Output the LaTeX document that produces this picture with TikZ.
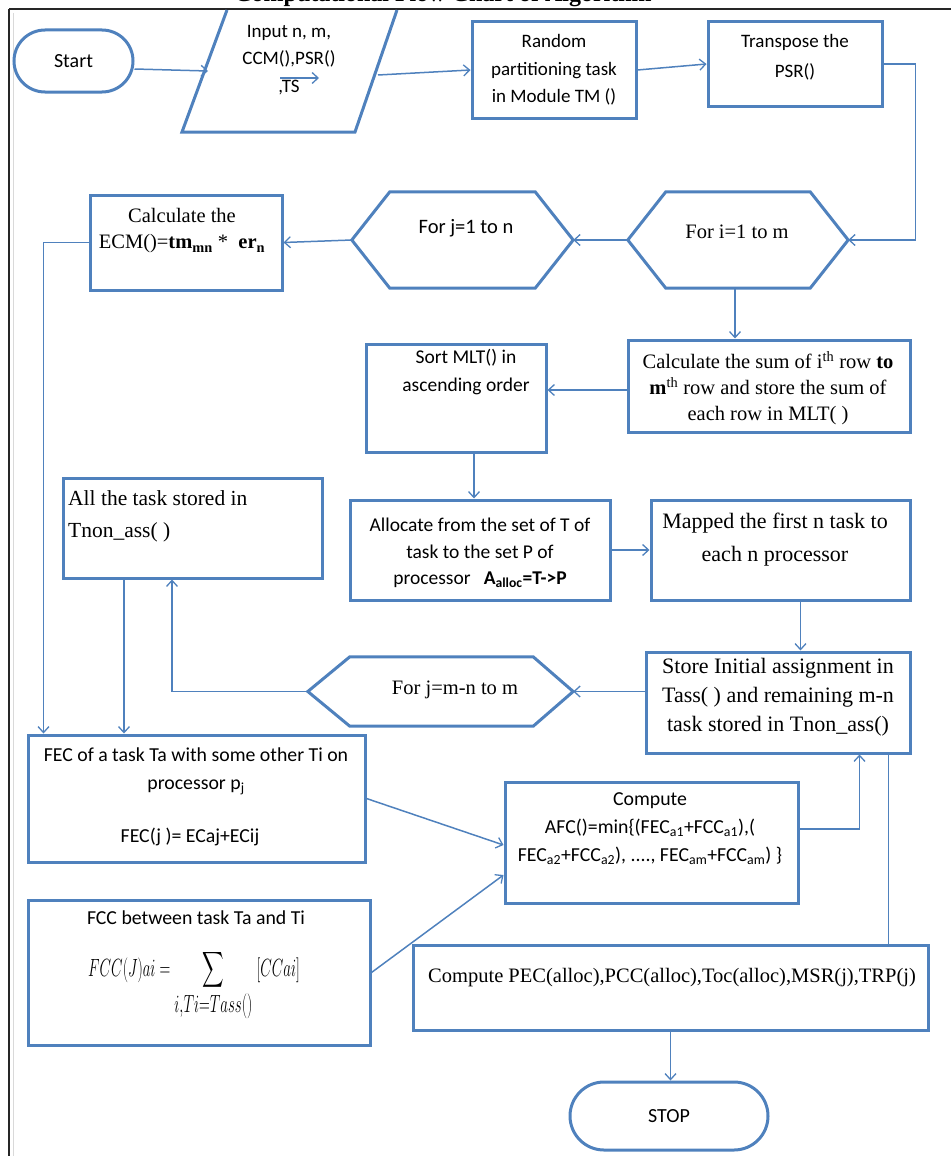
\documentclass[tikz,border=0pt]{standalone}
\usepackage{amsmath}
\usepackage{fontspec}
\setmainfont{Carlito}
\newfontfamily\tnr{Liberation Serif}
\usetikzlibrary{arrows.meta,shapes.misc,fit}
\definecolor{boxblue}{RGB}{79,129,189}
\begin{document}
\begin{tikzpicture}[x=1pt,y=-1pt,
  box/.style={draw=boxblue,line width=3pt,inner sep=0pt},
  hexarea/.style={inner sep=0pt},
  term/.style={draw=boxblue,line width=3pt,rounded rectangle,inner sep=0pt},
  outline/.style={draw=boxblue,line width=3pt,line join=miter},
  arr/.style={draw=boxblue,line width=1.5pt,-{Straight Barb[length=6pt,width=11pt,line width=1.3pt]}},
  conn/.style={draw=boxblue,line width=1.5pt},
  sf/.style={font=\fontsize{19}{27.5}\selectfont,align=center,inner sep=0pt},
  rm/.style={font=\tnr\fontsize{20.5}{26}\selectfont,align=center,inner sep=0pt}]
\useasboundingbox (0,0) rectangle (951,1156);

% clipped title and frame
\begin{scope}
\clip (0,0) rectangle (951,9);
\node[font=\tnr\bfseries\fontsize{24}{28}\selectfont,anchor=base,inner sep=0pt] (title) at (443,1.5) {Computational Flow Chart of Algorithm};
\end{scope}
\draw[black!85,line width=2pt] (9,9.5) -- (951,9.5);
\draw[black!85,line width=2pt] (9,9.5) -- (9,1156);
\draw[black!15,line width=1pt] (13,13) -- (13,1156);

% start
\node[term,minimum width=119pt,minimum height=62pt] (start) at (73.5,61) {};
\node[sf,font=\fontsize{20}{27.5}\selectfont] (startt) at (start) {Start};

% input parallelogram (top cut by frame)
\coordinate (inTL) at (227,10);
\coordinate (inTR) at (397,10);
\coordinate (inBR) at (355,132);
\coordinate (inBL) at (182,132);
\draw[outline] (inTL) -- (inBL) -- (inBR) -- (inTR);
\coordinate (inL) at (208,71);
\coordinate (inR) at (378,75);
\node[sf] (inputt) at (289,60) {Input n, m,\\CCM(),PSR()\\,TS};
\coordinate (inA) at (280,78);
\coordinate (inB) at (319,78);
\draw[arr] (inA) -- (inB);

% boxes
\node[box,fit={(472,22) (636,118)}] (rand) {};
\node[sf] (randt) at (554,70) {Random\\partitioning task\\in Module TM ()};
\node[box,fit={(708,22) (882,106)}] (trans) {};
\node[sf] (transt) at (795,57) {Transpose the\\[3pt]PSR()};

% hexagons
\node[hexarea,fit={(628,192) (848,288)}] (fori) {};
\draw[outline] (fori.west) -- ([xshift=38]fori.north west) -- ([xshift=-38]fori.north east) -- (fori.east) -- ([xshift=-38]fori.south east) -- ([xshift=38]fori.south west) -- cycle;
\node[rm] (forit) at (737,232) {For i=1 to m};

\node[hexarea,fit={(352,192) (573,288)}] (forj) {};
\draw[outline] (forj.west) -- ([xshift=38]forj.north west) -- ([xshift=-38]forj.north east) -- (forj.east) -- ([xshift=-38]forj.south east) -- ([xshift=38]forj.south west) -- cycle;
\node[sf,font=\fontsize{20.5}{27.5}\selectfont] (forjt) at (466,228) {For j=1 to n};

\node[box,fit={(90,195) (282,290)}] (ecm) {};
\node[rm] (ecmt) at (182,231) {Calculate the\\ECM()=\textbf{tm}\textsubscript{\textbf{mn}} * ~\textbf{er}\textsubscript{\textbf{n}}};

\node[box,fit={(628,340) (910,432)}] (calc) {};
\node[rm] (calct) at (768,388) {Calculate the sum of i\textsuperscript{th} row \textbf{to}\\\textbf{m}\textsuperscript{th} row and store the sum of\\each row in MLT( )};

\node[box,fit={(366,344) (546,452)}] (sort) {};
\node[sf,font=\fontsize{19.5}{28}\selectfont] (sortt) at (466,372) {Sort MLT() in\\ascending order};

\node[box,fit={(63,478) (322,578)}] (tnon) {};
\node[rm,font=\tnr\fontsize{21.5}{26}\selectfont,align=left,anchor=west] (tnont) at (68,516) {All the task stored in\\[6pt]Tnon\_ass( )};

\node[box,fit={(350,500) (610,600)}] (alloc) {};
\node[sf,font=\fontsize{19.5}{26.5}\selectfont] (alloct) at (480,553) {Allocate from the set of T of\\task to the set P of\\processor~~~\textbf{A\textsubscript{alloc}=T->P}};

\node[box,fit={(651,500) (910,600)}] (mapped) {};
\node[rm,font=\tnr\fontsize{22}{26}\selectfont] (mappedt) at (775,540) {Mapped the first n task to\\[7pt]each n processor};

\node[box,fit={(646,652) (910,753)}] (store) {};
\node[rm,font=\tnr\fontsize{22}{26}\selectfont] (storet) at (778,697) {Store Initial assignment in\\[3pt]Tass( ) and remaining m-n\\[3pt]task stored in Tnon\_ass()};

\node[hexarea,fit={(308,657) (573,726)}] (formn) {};
\draw[outline] (formn.west) -- ([xshift=42]formn.north west) -- ([xshift=-40]formn.north east) -- (formn.east) -- ([xshift=-40]formn.south east) -- ([xshift=42]formn.south west) -- cycle;
\node[rm] (formnt) at (455,690) {For j=m-n to m};

\node[box,fit={(28,735) (365,862)}] (fec) {};
\node[sf,font=\fontsize{19.8}{28}\selectfont] (fect) at (196,771) {FEC of a task Ta with some other Ti on\\processor p\textsubscript{j}};
\node[sf,font=\fontsize{19.8}{28}\selectfont] (fect2) at (190,837) {FEC(j )= ECaj+ECij};

\node[box,fit={(505,782) (798,903)}] (afc) {};
\node[sf,font=\fontsize{19.8}{28}\selectfont] (afct) at (650,829) {Compute\\AFC()=min\{(FEC\textsubscript{a1}+FCC\textsubscript{a1}),(\\FEC\textsubscript{a2}+FCC\textsubscript{a2}), ...., FEC\textsubscript{am}+FCC\textsubscript{am}) \}};

\node[box,fit={(28,900) (370,1045)}] (fcc) {};
\node[sf,font=\fontsize{19.8}{28}\selectfont] (fcct) at (196,918) {FCC between task Ta and Ti};
\node[inner sep=0pt,font=\fontsize{35}{40}\selectfont] (fccf) at (194,986) {\scalebox{0.6}[1]{$\displaystyle FCC(J)ai=\sum_{i,Ti=Tass()}\;[CCai]$}};

\node[box,fit={(413,945) (928,1030)}] (pec) {};
\node[rm] (pect) at (672,978) {Compute PEC(alloc),PCC(alloc),Toc(alloc),MSR(j),TRP(j)};

\node[term,minimum width=198pt,minimum height=68pt] (stop) at (669,1116) {};
\node[sf,font=\fontsize{20}{27.5}\selectfont] (stopt) at (stop) {STOP};

% connectors
\draw[arr] ([yshift=-8]start.east) -- (inL);
\draw[arr] (inR) -- (rand.west);
\draw[arr] (rand.east) -- (trans.west);
\draw[arr] (trans.east) -- ++(32,0) |- (fori.east);
\draw[arr] (fori.west) -- (forj.east);
\draw[arr] (forj.west) -- (ecm.east);
\draw[arr] (ecm.west) -| ([xshift=17]fec.north west);
\draw[arr] ([xshift=-3]fori.south) -- ([xshift=-3]fori.south |- calc.north);
\draw[arr] ([yshift=-4]calc.west) -- ([yshift=-4]calc.west -| sort.east);
\draw[arr] ([xshift=18]sort.south) -- ([xshift=18]sort.south |- alloc.north);
\draw[arr] (alloc.east) -- (mapped.west);
\draw[arr] ([xshift=20]mapped.south) -- ([xshift=20]mapped.south |- store.north);
\draw[arr] (store.west |- formn.east) -- (formn.east);
\draw[arr] (formn.west) -| ([xshift=-20.5]tnon.south);
\draw[arr] ([xshift=-68.5]tnon.south) -- ([xshift=-68.5]tnon.south |- fec.north);
\draw[arr] (fec.east) -- ([yshift=-2.5]afc.west);
\draw[arr] (fcc.east) -- ([yshift=-32.5]afc.west);
\draw[arr] ([yshift=13.5]afc.east) -| ([xshift=-52]store.south east);
\draw[conn] ([xshift=-23]store.south east) -- ([xshift=-23]store.south east |- pec.north);
\draw[arr] (pec.south) -- (pec.south |- stop.north);
\end{tikzpicture}
\end{document}
